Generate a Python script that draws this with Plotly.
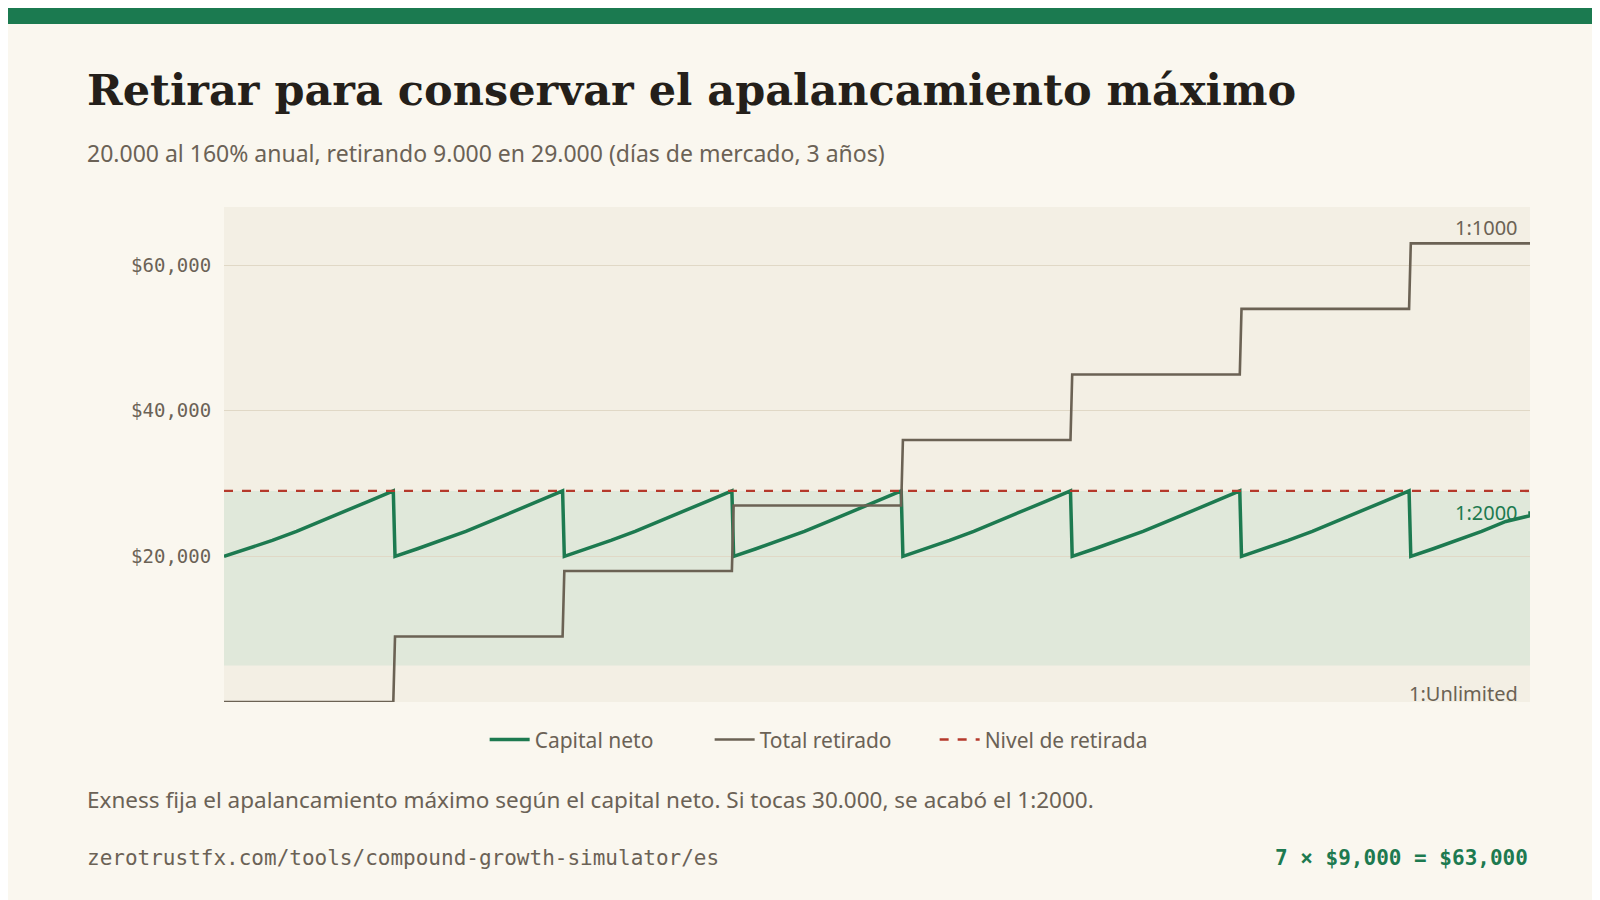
import plotly.graph_objects as go

# Capital neto samples (days of market, equity)
cycle_days = [0, 14, 28, 42, 56, 70, 84, 98]
cycle_equity = [20000, 21050, 22200, 23450, 24800, 26200, 27600, 29000]
n_cycles = 7
cycle_len = 98
final_days = [0, 14, 28, 42, 56, 70, 84]
final_equity = [20000, 21050, 22200, 23450, 24800, 25600, 26200]
withdraw_amount = [9000, 9000, 9000, 9000, 9000, 9000, 9000]
withdraw_level = 29000
end_day = 756
band_low, band_high = 5000, 29000

days, equity = [], []
for c in range(n_cycles):
    for d, e in zip(cycle_days, cycle_equity):
        days.append(c * cycle_len + d + (1 if d == 0 and c > 0 else 0))
        equity.append(e)
for d, e in zip(final_days, final_equity):
    days.append(n_cycles * cycle_len + d + (1 if d == 0 else 0))
    equity.append(e)
days[-1] = end_day

wd_x, wd_y = [0], [0]
tot = 0
for c in range(n_cycles):
    t = (c + 1) * cycle_len
    wd_x += [t, t + 1]
    wd_y += [tot, tot + withdraw_amount[c]]
    tot += withdraw_amount[c]
wd_x.append(end_day); wd_y.append(tot)

GREEN = "#1d7a50"; BROWN = "#6b6254"; RED = "#b5392b"; TXT = "#6b6256"
fig = go.Figure()
fig.add_trace(go.Scatter(x=days, y=equity, mode="lines", name="Capital neto",
                         line=dict(color=GREEN, width=3.5)))
fig.add_trace(go.Scatter(x=wd_x, y=wd_y, mode="lines", name="Total retirado",
                         line=dict(color=BROWN, width=2.6)))
fig.add_trace(go.Scatter(x=[0, end_day], y=[withdraw_level] * 2, mode="lines", name="Nivel de retirada",
                         line=dict(color=RED, width=2.4, dash="dash")))

fig.update_layout(
    width=1600, height=900, paper_bgcolor="#faf7ef", plot_bgcolor="#f3efe4",
    margin=dict(l=216, r=78, t=199, b=206),
    font=dict(family="Noto Sans", color=TXT, size=20),
    showlegend=True,
    legend=dict(orientation="h", x=0.458, xanchor="center", y=-0.035, yanchor="top",
                font=dict(size=21, color=TXT), bgcolor="rgba(0,0,0,0)", itemwidth=40,
                entrywidth=170, entrywidthmode="pixels"),
    xaxis=dict(range=[0, end_day], showgrid=False, showticklabels=False, zeroline=False, fixedrange=True),
    yaxis=dict(range=[0, 68000], tickvals=[20000, 40000, 60000],
               ticktext=["$20,000", "$40,000", "$60,000"], gridcolor="#e0d8c6", zeroline=False,
               tickfont=dict(family="DejaVu Sans Mono", size=19, color=TXT), ticklen=8, ticks="outside",
               tickcolor="rgba(0,0,0,0)"),
)
fig.add_shape(type="rect", xref="paper", yref="y", x0=0, x1=1, y0=band_low, y1=band_high,
              fillcolor="#e0e8da", line_width=0, layer="below")
fig.add_shape(type="rect", xref="paper", yref="paper", x0=-0.3, x1=1.3, y0=1.0 + 183/495, y1=1.0 + 220/495,
              fillcolor="#1b7a50", line_width=0)
ann = [
    dict(text="<b>Retirar para conservar el apalancamiento máximo</b>", x=77, y=82, size=43,
         family="DejaVu Serif", color="#241f1a"),
    dict(text="20.000 al 160% anual, retirando 9.000 en 29.000 (días de mercado, 3 años)", x=77, y=145,
         size=23, family="Noto Sans", color=TXT),
    dict(text="Exness fija el apalancamiento máximo según el capital neto. Si tocas 30.000, se acabó el 1:2000.",
         x=77, y=791, size=22.5, family="Noto Sans", color=TXT),
    dict(text="zerotrustfx.com/tools/compound-growth-simulator/es", x=77, y=850, size=21,
         family="DejaVu Sans Mono", color=TXT),
]
for a in ann:
    fig.add_annotation(text=a["text"], xref="paper", yref="paper", x=(a["x"] - 216) / 1306,
                       y=1 - (a["y"] - 199) / 495, xanchor="left", yanchor="middle", showarrow=False,
                       font=dict(size=a["size"], family=a["family"], color=a["color"]))
fig.add_annotation(text="<b>7 × $9,000 = $63,000</b>", xref="paper", yref="paper", x=1, xanchor="right",
                   y=1 - (850 - 199) / 495, yanchor="middle", showarrow=False,
                   font=dict(size=21, family="DejaVu Sans Mono", color=GREEN))
for txt, yv, col in [("1:1000", 65200, BROWN), ("1:2000", 26000, GREEN), ("1:Unlimited", 1200, BROWN)]:
    fig.add_annotation(text=txt, xref="paper", x=0.992, xanchor="right", y=yv, yanchor="middle",
                       showarrow=False, font=dict(size=20, family="Noto Sans", color=col))
fig.write_html("out.html")
